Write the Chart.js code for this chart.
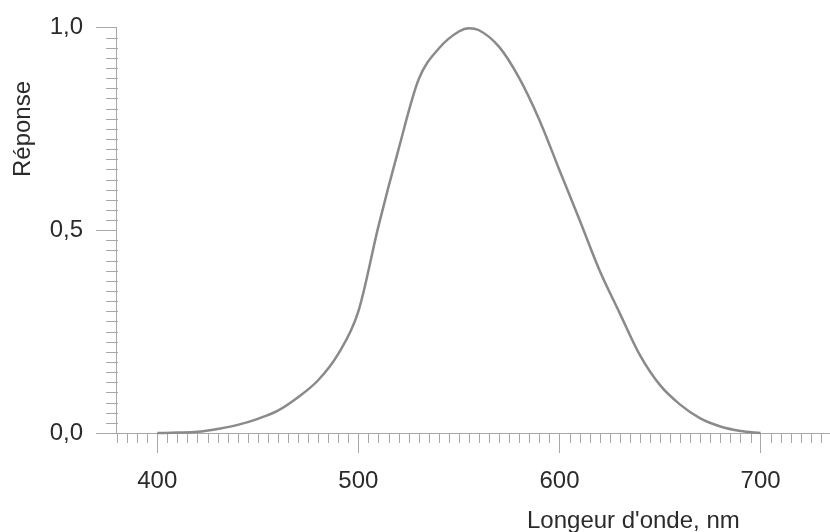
<!DOCTYPE html>
<html><head><meta charset="utf-8">
<script src="https://cdn.jsdelivr.net/npm/chart.js@4"></script>
<style>html,body{margin:0;padding:0;background:#fff}#wrap{width:830px;height:532px;position:relative}</style>
</head><body><div id="wrap"><canvas id="c"></canvas></div>
<script>
const wavelengths = [400,410,420,430,440,450,460,470,480,490,500,510,520,530,540,550,555,560,570,580,590,600,610,620,630,640,650,660,670,680,690,700];
const response    = [0.0,0.001,0.003,0.01,0.02,0.035,0.055,0.088,0.13,0.195,0.30,0.51,0.70,0.872,0.948,0.99,0.998,0.993,0.952,0.875,0.772,0.648,0.525,0.40,0.295,0.192,0.118,0.07,0.036,0.016,0.005,0.0];
const xTickValues = [400,500,600,700];
const yTickValues = [0,0.5,1.0];
const xAxisTitle = "Longeur d'onde, nm";
const yAxisTitle = "Réponse";

const AXIS = '#a8a8a8';
const TEXT = '#2b2b2b';
const FONT = {family: '"Liberation Sans", Arial, sans-serif', size: 24};

const minorTicks = {
  id: 'minorTicks',
  beforeDatasetsDraw(chart) {
    const {ctx, scales: {x, y}} = chart;
    ctx.save();
    ctx.strokeStyle = AXIS; ctx.lineWidth = 1;
    ctx.beginPath();
    for (let v = 380; v <= x.max; v += 5) {
      if (v % 100 === 0) continue;
      const px = Math.round(x.getPixelForValue(v)) + 0.5;
      ctx.moveTo(px, y.bottom); ctx.lineTo(px, y.bottom + 10);
    }
    for (let i = 1; i < 40; i++) {
      if (i % 20 === 0) continue;
      const py = Math.round(y.getPixelForValue(i * 0.025)) + 0.5;
      ctx.moveTo(x.left - 10, py); ctx.lineTo(x.left + 2, py);
    }
    ctx.stroke();
    ctx.restore();
  },
  afterDraw(chart) {
    const {ctx} = chart;
    ctx.save();
    ctx.fillStyle = TEXT;
    ctx.font = '24px "Liberation Sans", Arial, sans-serif';
    ctx.textBaseline = 'alphabetic';
    ctx.textAlign = 'left';
    ctx.fillText(xAxisTitle, 527, 528);
    ctx.translate(30, 177);
    ctx.rotate(-Math.PI / 2);
    ctx.fillText(yAxisTitle, 0, 0);
    ctx.restore();
  }
};

new Chart(document.getElementById('c'), {
  type: 'line',
  data: {
    datasets: [{
      data: wavelengths.map((w, i) => ({x: w, y: response[i]})),
      borderColor: '#8a8a8a',
      borderWidth: 2.5,
      pointRadius: 0,
      fill: false,
      cubicInterpolationMode: 'monotone',
      clip: false
    }]
  },
  options: {
    responsive: true,
    maintainAspectRatio: false,
    animation: false,
    devicePixelRatio: 1,
    layout: {padding: {top: 25, right: 0, left: 0, bottom: 0}},
    plugins: {legend: {display: false}, tooltip: {enabled: false}, title: {display: false}},
    scales: {
      x: {
        type: 'linear', min: 379.5, max: 734.5,
        afterBuildTicks: s => { s.ticks = xTickValues.map(v => ({value: v})); },
        afterFit: s => { s.height = 99; },
        grid: {drawOnChartArea: false, drawTicks: true, tickLength: 20, color: AXIS, lineWidth: 1},
        border: {display: true, color: AXIS, width: 1},
        ticks: {font: FONT, color: TEXT, padding: 14, maxRotation: 0, autoSkip: false}
      },
      y: {
        type: 'linear', min: 0, max: 1,
        afterBuildTicks: s => { s.ticks = yTickValues.map(v => ({value: v})); },
        afterFit: s => { s.width = 116; },
        grid: {drawOnChartArea: false, drawTicks: true, tickLength: 20, color: AXIS, lineWidth: 1},
        border: {display: true, color: AXIS, width: 1},
        ticks: {font: FONT, color: TEXT, padding: 13, callback: v => v.toFixed(1).replace('.', ',')}
      }
    }
  },
  plugins: [minorTicks]
});
</script>
</body></html>
